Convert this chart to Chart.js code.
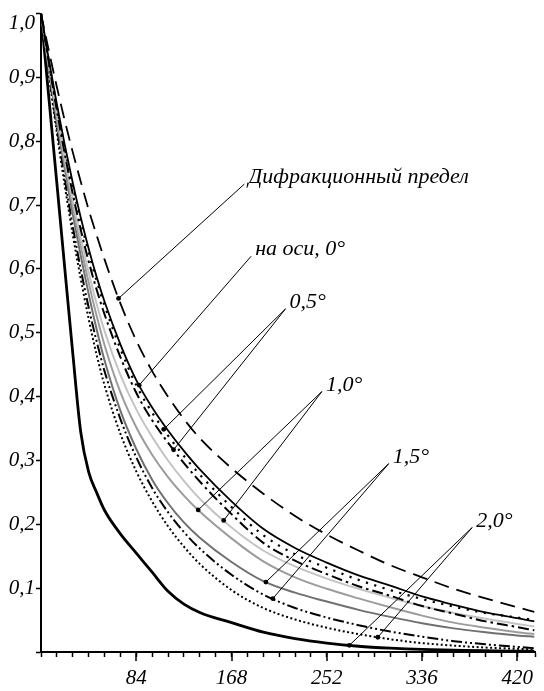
<!DOCTYPE html>
<html>
<head>
<meta charset="utf-8">
<style>
  html, body { margin: 0; padding: 0; background: #fff; }
  #wrap { width: 544px; height: 691px; position: relative; }
</style>
<script src="https://cdn.jsdelivr.net/npm/chart.js@4/dist/chart.umd.min.js"></script>
</head>
<body>
<div id="wrap"><canvas id="mtf"></canvas></div>
<script>
// пространственная частота (ось X) и значения ЧКХ для каждой кривой
const X = [0, 7, 14, 21, 28, 35, 42, 49, 56, 70, 84, 98, 112, 126, 140, 168, 196, 224, 252, 280, 308, 336, 364, 392, 420, 435];
const X_MAX = 435.6;

const diffr        = [1, 0.941, 0.885, 0.832, 0.783, 0.737, 0.693, 0.653, 0.615, 0.546, 0.488, 0.44, 0.4, 0.365, 0.335, 0.288, 0.248, 0.213, 0.184, 0.159, 0.136, 0.117, 0.099, 0.084, 0.07, 0.063];
const axis0        = [1, 0.927, 0.858, 0.794, 0.735, 0.681, 0.632, 0.588, 0.549, 0.482, 0.426, 0.383, 0.347, 0.315, 0.286, 0.236, 0.193, 0.163, 0.14, 0.12, 0.104, 0.087, 0.074, 0.062, 0.053, 0.048];
const dot05        = [1, 0.924, 0.854, 0.789, 0.729, 0.675, 0.626, 0.582, 0.543, 0.475, 0.418, 0.375, 0.339, 0.307, 0.278, 0.227, 0.183, 0.153, 0.132, 0.113, 0.097, 0.083, 0.071, 0.061, 0.054, 0.05];
const dashdot05    = [1, 0.922, 0.848, 0.78, 0.718, 0.662, 0.612, 0.568, 0.529, 0.462, 0.406, 0.363, 0.328, 0.296, 0.267, 0.216, 0.171, 0.143, 0.122, 0.103, 0.088, 0.072, 0.06, 0.048, 0.039, 0.034];
const light10      = [1, 0.919, 0.843, 0.773, 0.708, 0.649, 0.595, 0.546, 0.503, 0.434, 0.38, 0.337, 0.3, 0.268, 0.24, 0.195, 0.159, 0.134, 0.115, 0.099, 0.085, 0.072, 0.061, 0.052, 0.044, 0.04];
const gray10       = [1, 0.916, 0.838, 0.765, 0.698, 0.636, 0.579, 0.527, 0.481, 0.407, 0.352, 0.309, 0.274, 0.245, 0.22, 0.178, 0.142, 0.117, 0.099, 0.084, 0.07, 0.057, 0.046, 0.038, 0.031, 0.028];
const dark15       = [1, 0.912, 0.831, 0.756, 0.686, 0.621, 0.561, 0.506, 0.457, 0.378, 0.318, 0.27, 0.233, 0.203, 0.179, 0.141, 0.111, 0.093, 0.079, 0.066, 0.055, 0.045, 0.037, 0.031, 0.026, 0.024];
const dashdotdot15 = [1, 0.907, 0.821, 0.741, 0.667, 0.6, 0.54, 0.487, 0.44, 0.365, 0.305, 0.257, 0.219, 0.188, 0.162, 0.121, 0.09, 0.069, 0.054, 0.042, 0.032, 0.024, 0.017, 0.012, 0.008, 0.006];
const dot20        = [1, 0.903, 0.813, 0.73, 0.654, 0.585, 0.522, 0.466, 0.418, 0.342, 0.283, 0.236, 0.197, 0.165, 0.138, 0.097, 0.069, 0.051, 0.038, 0.028, 0.02, 0.014, 0.01, 0.007, 0.005, 0.004];
const thick20      = [1, 0.867, 0.734, 0.6, 0.468, 0.345, 0.282, 0.25, 0.222, 0.185, 0.155, 0.125, 0.095, 0.075, 0.062, 0.046, 0.031, 0.021, 0.014, 0.009, 0.006, 0.004, 0.003, 0.002, 0.0015, 0.0015];

// подписи-выноски: текст, точка излома (в единицах осей), на каких кривых и при каком X ставить точку
const noteText = ['Дифракционный предел', 'на оси, 0°', '0,5°', '1,0°', '1,5°', '2,0°'];
const noteX    = [179.3, 185.3, 215.6, 247.7, 306.6, 380.2];
const noteY    = [0.733, 0.62, 0.5375, 0.408, 0.295, 0.195];
const noteHits = [
    [['diffr', 68.4]],
    [['axis0', 86.6]],
    [['dot05', 108.2], ['dashdot05', 116.9]],
    [['gray10', 138.6], ['light10', 161.1]],
    [['dark15', 198.3], ['dashdotdot15', 204.4]],
    [['thick20', 271.9], ['dot20', 297]]
];

const FONT = "'Liberation Serif', 'Times New Roman', serif";

function mkDataset(key, values, color, width, dash) {
    return {
        label: key,
        data: X.map((x, i) => ({ x, y: values[i] })),
        borderColor: color, borderWidth: width, borderDash: dash || [],
        pointRadius: 0, fill: false, cubicInterpolationMode: 'monotone'
    };
}

const series = { diffr, axis0, dot05, dashdot05, light10, gray10, dark15, dashdotdot15, dot20, thick20 };

function valueAt(key, x) {
    const v = series[key];
    for (let i = 1; i < X.length; i++) {
        if (x <= X[i]) {
            const t = (x - X[i-1]) / (X[i] - X[i-1]);
            return v[i-1] + t * (v[i] - v[i-1]);
        }
    }
    return v[v.length - 1];
}

const leaders = {
    id: 'leaders',
    afterDraw(chart) {
        const { ctx, scales: { x, y } } = chart;
        ctx.save();
        // длинные риски на подписанных делениях
        ctx.strokeStyle = '#000';
        ctx.lineWidth = 1.5;
        x.ticks.forEach(t => {
            if (t.value > 0 && t.value % 84 === 0) {
                const px = Math.round(x.getPixelForValue(t.value));
                ctx.beginPath();
                ctx.moveTo(px, y.bottom);
                ctx.lineTo(px, y.bottom + 9);
                ctx.stroke();
            }
        });
        ctx.fillStyle = '#000';
        // верхняя подпись оси Y опущена под риску, как в оригинале
        ctx.font = 'italic 21px ' + FONT;
        ctx.textAlign = 'right';
        ctx.textBaseline = 'middle';
        ctx.fillText('1,0', y.left + y.width - 6, y.getPixelForValue(1) + 10);

        ctx.font = 'italic 22px ' + FONT;
        ctx.textAlign = 'left';
        ctx.textBaseline = 'alphabetic';
        noteText.forEach((txt, i) => {
            const ax = x.getPixelForValue(noteX[i]);
            const ay = y.getPixelForValue(noteY[i]);
            ctx.lineWidth = 1;
            noteHits[i].forEach(([key, hx]) => {
                const px = x.getPixelForValue(hx);
                const py = y.getPixelForValue(valueAt(key, hx));
                ctx.beginPath();
                ctx.moveTo(ax, ay);
                ctx.lineTo(px, py);
                ctx.stroke();
                ctx.beginPath();
                ctx.arc(px, py, 2.4, 0, Math.PI * 2);
                ctx.fill();
            });
            ctx.fillText(txt, ax + 4, ay - 1);
        });
        ctx.restore();
    }
};

new Chart(document.getElementById('mtf'), {
    type: 'line',
    data: {
        datasets: [
            mkDataset('diffr', diffr, '#000', 1.8, [15, 8]),
            mkDataset('axis0', axis0, '#000', 1.8),
            mkDataset('dot05', dot05, '#000', 2.2, [2.2, 6.5]),
            mkDataset('dashdot05', dashdot05, '#000', 2, [11, 4, 2.5, 4]),
            mkDataset('light10', light10, '#c4c4c4', 2),
            mkDataset('gray10', gray10, '#9c9c9c', 2),
            mkDataset('dark15', dark15, '#707070', 2),
            mkDataset('dashdotdot15', dashdotdot15, '#000', 2, [11, 3, 2, 3, 2, 3]),
            mkDataset('dot20', dot20, '#000', 2, [2, 2.5]),
            mkDataset('thick20', thick20, '#000', 2.8)
        ]
    },
    options: {
        responsive: true,
        maintainAspectRatio: false,
        animation: false,
        layout: { padding: { top: 13, right: 0, left: 0, bottom: 0 } },
        plugins: { legend: { display: false }, tooltip: { enabled: false } },
        scales: {
            x: {
                type: 'linear', min: 0, max: X_MAX,
                afterFit: s => { s.height = 39; },
                ticks: {
                    stepSize: 14, autoSkip: false, maxRotation: 0, padding: 9,
                    color: '#000', font: { family: FONT, size: 21, style: 'italic' },
                    callback: v => (v > 0 && v % 84 === 0) ? String(v) : ''
                },
                grid: { drawOnChartArea: false, tickLength: 5, tickWidth: 1.5, tickColor: '#000', color: '#000' },
                border: { display: true, color: '#000', width: 2 }
            },
            y: {
                min: 0, max: 1,
                afterFit: s => { s.width = 41; },
                ticks: {
                    stepSize: 0.1, padding: 1,
                    color: '#000', font: { family: FONT, size: 21, style: 'italic' },
                    callback: v => (v > 0.001 && v < 0.999) ? v.toFixed(1).replace('.', ',') : ''
                },
                grid: { drawOnChartArea: false, tickLength: 5, tickWidth: 1.5, tickColor: '#000', color: '#000' },
                border: { display: true, color: '#000', width: 2 }
            }
        }
    },
    plugins: [leaders]
});
</script>
</body>
</html>
